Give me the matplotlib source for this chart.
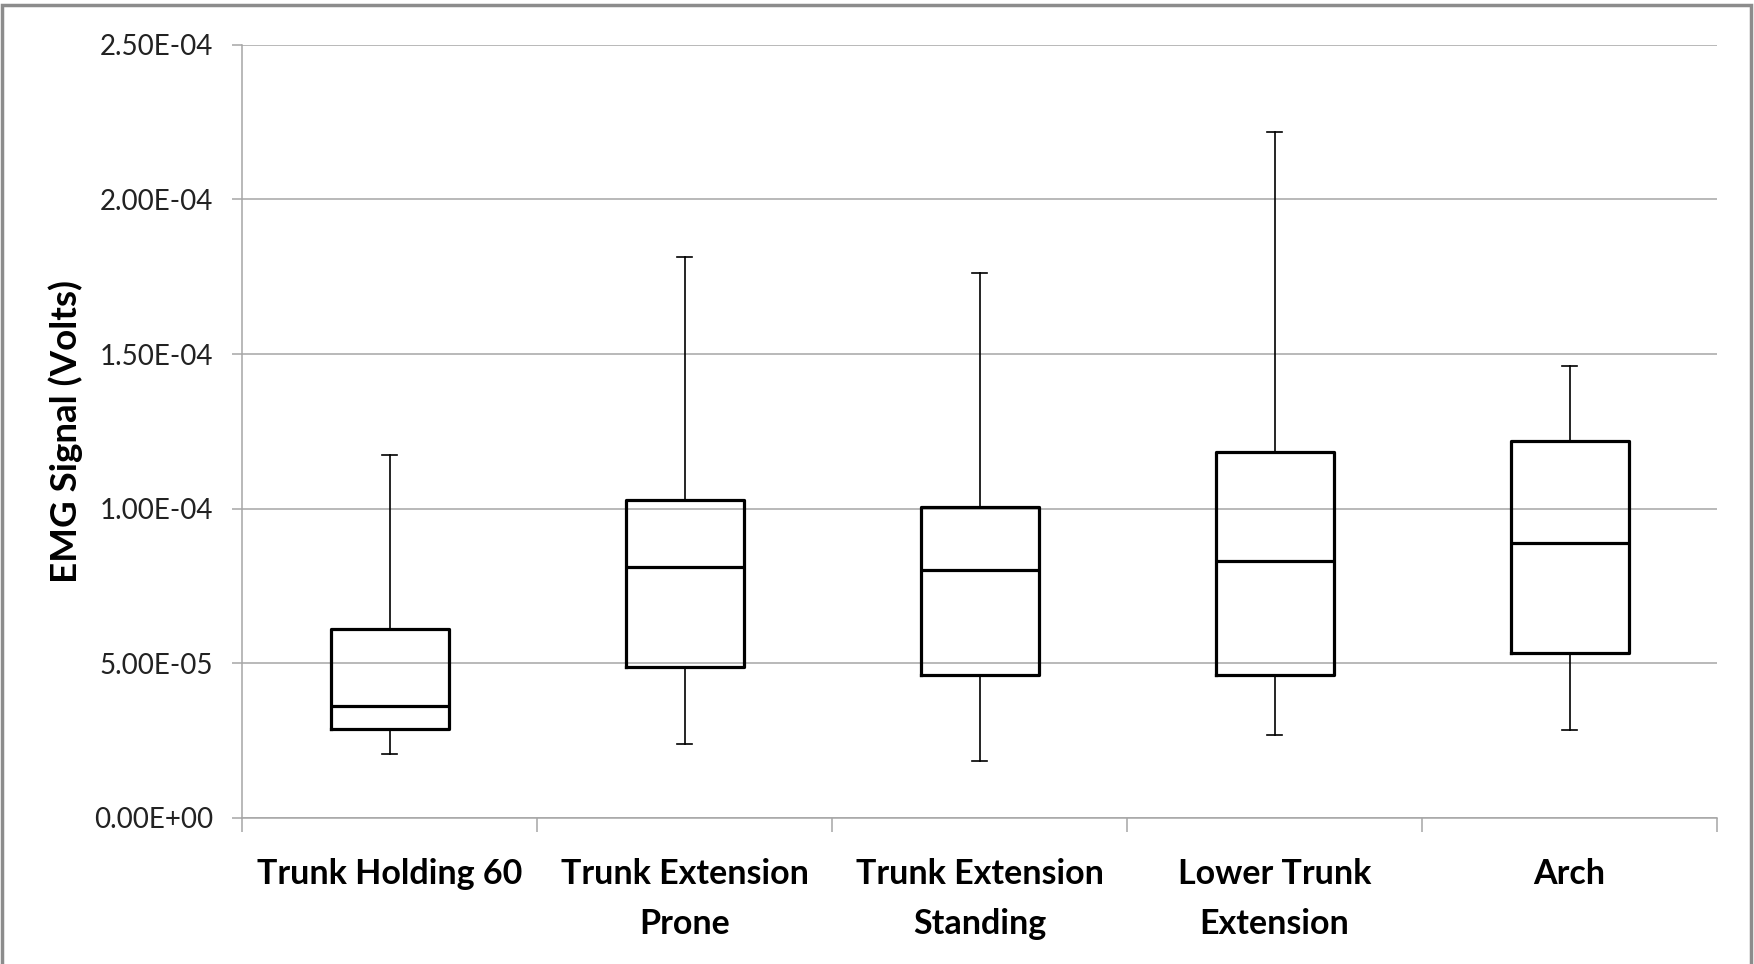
import matplotlib
matplotlib.use("Agg")
import matplotlib.pyplot as plt
from matplotlib.patches import Rectangle
from matplotlib.ticker import FuncFormatter, FixedLocator

categories = ["Trunk Holding 60", "Trunk Extension\nProne", "Trunk Extension\nStanding",
              "Lower Trunk\nExtension", "Arch"]
whisker_low = [2.06e-5, 2.39e-5, 1.85e-5, 2.68e-5, 2.86e-5]
q1 = [2.89e-5, 4.88e-5, 4.63e-5, 4.63e-5, 5.32e-5]
median = [3.62e-5, 8.10e-5, 8.03e-5, 8.32e-5, 8.90e-5]
q3 = [6.11e-5, 1.027e-4, 1.006e-4, 1.183e-4, 1.219e-4]
whisker_high = [1.172e-4, 1.813e-4, 1.762e-4, 2.218e-4, 1.462e-4]
y_ticks = [0.0, 5e-5, 1e-4, 1.5e-4, 2e-4, 2.5e-4]
y_label = "EMG Signal (Volts)"

FONT = ["Lato", "DejaVu Sans"]
GRID = "#a6a6a6"

fig = plt.figure(figsize=(17.54, 9.64), dpi=100)
ax = fig.add_axes([242 / 1754, 1 - 818 / 964, 1475 / 1754, (818 - 44.7) / 964])

stats = []
for i, lab in enumerate(categories):
    stats.append(dict(label=lab, whislo=whisker_low[i], q1=q1[i], med=median[i],
                      q3=q3[i], whishi=whisker_high[i], fliers=[]))
positions = list(range(1, len(categories) + 1))
ax.bxp(stats, positions=positions, widths=0.4, capwidths=0.05, showfliers=False,
       boxprops=dict(color="black", linewidth=2.3),
       medianprops=dict(color="black", linewidth=2.3),
       whiskerprops=dict(color="black", linewidth=1.2),
       capprops=dict(color="black", linewidth=1.2), zorder=3)

ax.set_xlim(0.5, len(categories) + 0.5)
ax.set_ylim(0, 2.5e-4)
ax.yaxis.set_major_locator(FixedLocator(y_ticks))
ax.yaxis.set_major_formatter(FuncFormatter(lambda v, p: f"{v:.2E}"))
ax.yaxis.grid(True, color=GRID, linewidth=1.1, zorder=0)
ax.set_axisbelow(True)

ax.set_xticks([p - 0.5 for p in positions] + [positions[-1] + 0.5])
ax.set_xticklabels([])
ax.set_xticks(positions, minor=True)
ax.set_xticklabels(categories, minor=True, fontsize=24.5, fontweight="bold",
                   family=FONT, linespacing=1.69)
ax.tick_params(axis="x", which="major", length=10, width=1.1, color=GRID, direction="out")
ax.tick_params(axis="x", which="minor", length=0, pad=29)
ax.tick_params(axis="y", which="major", length=7, width=1.1, color=GRID, pad=14,
               labelsize=20)
for t in ax.get_yticklabels():
    t.set_family(FONT)
    t.set_color("#222222")

for s in ["top", "right"]:
    ax.spines[s].set_visible(False)
for s in ["left", "bottom"]:
    ax.spines[s].set_color(GRID)
    ax.spines[s].set_linewidth(1.1)

ax.set_ylabel(y_label, fontsize=26.5, fontweight="bold", family=FONT)
ax.yaxis.set_label_coords(-0.108, 0.5)

fig.patches.append(Rectangle((2 / 1754, -0.05), (1751 - 2) / 1754, 1.05 - 5 / 964,
                             transform=fig.transFigure, fill=False,
                             edgecolor="#8c8c8c", linewidth=2.5))

fig.savefig("out.png", dpi=100)
